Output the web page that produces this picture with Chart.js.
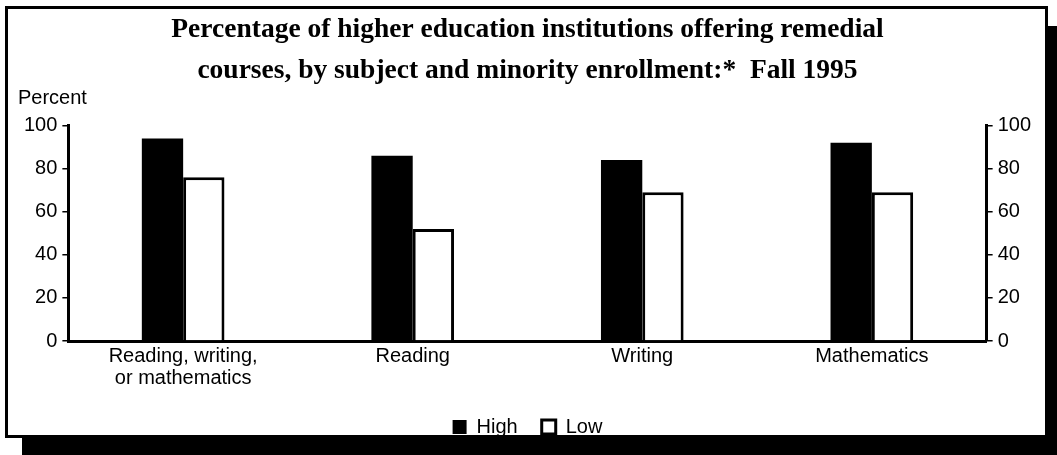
<!DOCTYPE html>
<html>
<head>
<meta charset="utf-8">
<script src="https://cdn.jsdelivr.net/npm/chart.js@4.4.1/dist/chart.umd.min.js"></script>
<style>
  html, body { margin: 0; padding: 0; background: #fff; }
  body { width: 1057px; height: 455px; overflow: hidden; position: relative; }
  #frame {
    position: absolute; left: 5px; top: 6px; width: 1037px; height: 426px;
    border: 3px solid #000; background: #fff;
    box-shadow: 17px 20px 0 #000;
  }
</style>
</head>
<body>
<div id="frame"><canvas id="remedialChart"></canvas></div>
<script>
// Remedial courses by minority enrollment, fall 1995
const categories = [['Reading, writing,', 'or mathematics'], 'Reading', 'Writing', 'Mathematics'];
const highMinority = [94, 86, 84, 92];
const lowMinority = [76, 52, 69, 69];
const percentTicks = [0, 20, 40, 60, 80, 100];

const titleLines = [
    'Percentage of higher education institutions offering remedial',
    'courses, by subject and minority enrollment:*  Fall 1995'
];

const sans = 'Liberation Sans, Arial, sans-serif';

// "Percent" label above the left axis
const percentLabel = {
    id: 'percentLabel',
    afterDraw(chart) {
        const ctx = chart.ctx;
        ctx.save();
        ctx.fillStyle = '#000';
        ctx.font = '20px ' + sans;
        ctx.textBaseline = 'middle';
        ctx.textAlign = 'left';
        ctx.fillText('Percent', 10, 89);
        ctx.restore();
    }
};

const yAxis = (pos) => ({
    position: pos,
    min: 0,
    max: 100,
    afterBuildTicks: (scale) => { scale.ticks = percentTicks.map(v => ({ value: v })); },
    ticks: { color: '#000', font: { family: sans, size: 20 }, padding: 5 },
    grid: { drawOnChartArea: false, drawTicks: true, tickLength: 6, color: '#000', lineWidth: 1.5 },
    border: { display: true, color: '#000', width: 3 }
});

const ctx = document.getElementById('remedialChart').getContext('2d');
new Chart(ctx, {
    type: 'bar',
    data: {
        labels: categories,
        datasets: [{
            label: 'High',
            data: highMinority,
            backgroundColor: '#000',
            borderColor: '#000',
            borderWidth: 0
        }, {
            label: 'Low',
            data: lowMinority,
            backgroundColor: '#fff',
            borderColor: '#000',
            borderWidth: 3
        }]
    },
    options: {
        responsive: true,
        maintainAspectRatio: false,
        animation: false,
        categoryPercentage: 0.36,
        barPercentage: 1,
        layout: { padding: { left: 11, right: 9, top: 0, bottom: -12 } },
        scales: {
            x: {
                grid: { display: false, drawTicks: false },
                border: { display: true, color: '#000', width: 3 },
                ticks: { color: '#000', font: { family: sans, size: 20, lineHeight: 1.1 }, padding: 4, maxRotation: 0 }
            },
            y: yAxis('left'),
            y2: yAxis('right')
        },
        plugins: {
            title: {
                display: true,
                text: titleLines,
                color: '#000',
                font: { family: 'Liberation Serif, Times New Roman, serif', size: 27.5, weight: 'bold', lineHeight: 1.5 },
                padding: { top: 0, bottom: 34 }
            },
            legend: {
                position: 'bottom',
                labels: {
                    color: '#000',
                    font: { family: sans, size: 20 },
                    boxWidth: 14,
                    boxHeight: 14,
                    padding: 24
                }
            },
            tooltip: { enabled: false }
        }
    },
    plugins: [percentLabel]
});
</script>
</body>
</html>
